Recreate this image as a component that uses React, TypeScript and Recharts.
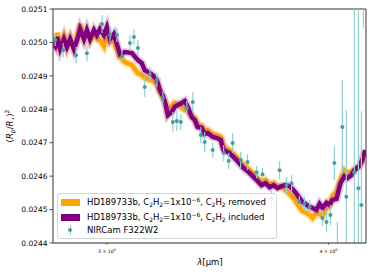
import { ComposedChart, Line, Scatter, ErrorBar, XAxis, YAxis, ReferenceLine } from 'recharts';

// model wavelength grid (micron)
const WAVE = [
  2.797, 2.805, 2.812, 2.823, 2.837, 2.848, 2.86, 2.874, 2.886, 2.897,
  2.912, 2.923, 2.935, 2.95, 2.961, 2.973, 2.988, 3.0, 3.012, 3.027,
  3.039, 3.051, 3.071, 3.099, 3.123, 3.139, 3.151, 3.172, 3.184, 3.201,
  3.213, 3.226, 3.238, 3.247, 3.264, 3.276, 3.289, 3.306, 3.319, 3.332,
  3.349, 3.362, 3.375, 3.393, 3.406, 3.419, 3.442, 3.46, 3.478, 3.491,
  3.518, 3.55, 3.578, 3.611, 3.644, 3.667, 3.686, 3.706, 3.725, 3.744,
  3.764, 3.783, 3.803, 3.823, 3.838, 3.852, 3.867, 3.888, 3.903, 3.918,
  3.938, 3.954, 3.969, 3.99, 4.005, 4.021, 4.042, 4.063, 4.084, 4.1,
  4.121, 4.137, 4.164, 4.18, 4.196,
];

// C2H2 removed
const REMOVED = [
  0.025007, 0.024995, 0.025028, 0.024992, 0.025019, 0.024989, 0.025013, 0.024986, 0.025013, 0.025055,
  0.025013, 0.025031, 0.025007, 0.025028, 0.025013, 0.025007, 0.024989, 0.025028, 0.025001, 0.025007,
  0.024977, 0.024956, 0.024941, 0.024932, 0.024908, 0.024903, 0.024894, 0.024888, 0.024885, 0.024876,
  0.024852, 0.024837, 0.024816, 0.024789, 0.02481, 0.024819, 0.024816, 0.024807, 0.024798, 0.024795,
  0.02478, 0.024774, 0.024756, 0.02475, 0.024735, 0.024738, 0.024726, 0.024723, 0.024717, 0.024687,
  0.024678, 0.024657, 0.024636, 0.024618, 0.024597, 0.024582, 0.024588, 0.024576, 0.024579, 0.02457,
  0.02457, 0.024558, 0.024547, 0.024535, 0.02452, 0.024508, 0.024496, 0.02449, 0.024484, 0.024475,
  0.02449, 0.024487, 0.024481, 0.024505, 0.024514, 0.024541, 0.024553, 0.024588, 0.024618, 0.024612,
  0.024612, 0.024618, 0.02463, 0.024648, 0.024672,
];

// C2H2 included
const INCLUDED = [
  0.024998, 0.024989, 0.025016, 0.02498, 0.02501, 0.024986, 0.02501, 0.02498, 0.025007, 0.02504,
  0.02501, 0.025037, 0.02501, 0.025037, 0.025022, 0.02504, 0.025022, 0.025046, 0.02501, 0.025025,
  0.024995, 0.024965, 0.024971, 0.024968, 0.024947, 0.024938, 0.024917, 0.024908, 0.024902, 0.024888,
  0.024858, 0.02484, 0.024813, 0.024783, 0.024792, 0.024807, 0.024813, 0.024819, 0.024825, 0.024807,
  0.024777, 0.024768, 0.024747, 0.024744, 0.024726, 0.024729, 0.024717, 0.024714, 0.024708, 0.024678,
  0.024669, 0.024648, 0.024627, 0.024609, 0.024588, 0.024573, 0.024579, 0.024567, 0.024573, 0.024564,
  0.02457, 0.024573, 0.02457, 0.024558, 0.024547, 0.024535, 0.024523, 0.024514, 0.024508, 0.024505,
  0.024499, 0.024517, 0.024505, 0.02452, 0.024514, 0.024529, 0.024532, 0.024579, 0.0246, 0.024594,
  0.024603, 0.024618, 0.02463, 0.024648, 0.024678,
];

// NIRCam F322W2 points
const OBS_WAVE = [
  2.805, 2.834, 2.882, 2.923, 2.981, 3.012, 3.039, 3.059, 3.091, 3.107,
  3.123, 3.151, 3.172, 3.201, 3.226, 3.268, 3.285, 3.302, 3.328, 3.354,
  3.389, 3.406, 3.442, 3.491, 3.514, 3.532, 3.569, 3.601, 3.644, 3.672,
  3.715, 3.754, 3.788, 3.813, 3.852, 3.877, 3.903, 3.969, 3.99, 4.01,
  4.031, 4.047, 4.073, 4.094, 4.137, 4.159, 4.175, 4.186,
];
const OBS_DEPTH = [
  0.025007, 0.024977, 0.024962, 0.024968, 0.025055, 0.025022, 0.025022, 0.024959, 0.024998, 0.025016,
  0.024983, 0.024867, 0.024905, 0.024888, 0.024834, 0.024762, 0.024765, 0.024762, 0.024804, 0.024822,
  0.024723, 0.024702, 0.024678, 0.024669, 0.024645, 0.024699, 0.024648, 0.024642, 0.024612, 0.024606,
  0.024532, 0.024618, 0.024573, 0.024579, 0.024523, 0.024517, 0.024508, 0.024475, 0.024463, 0.024484,
  0.024639, 0.024343, 0.024747, 0.024538, 0.024612, 0.024564, 0.024514, 0.025217,
];
const OBS_ERR = [
  0.000018, 0.000021, 0.000024, 0.000024, 0.000027, 0.000024, 0.000021, 0.000021, 0.000024, 0.000024,
  0.000024, 0.00003, 0.000021, 0.000021, 0.000021, 0.00003, 0.00003, 0.000024, 0.000021, 0.00003,
  0.000024, 0.00003, 0.000024, 0.000024, 0.000024, 0.00003, 0.000024, 0.000024, 0.000018, 0.000018,
  0.000027, 0.000027, 0.000024, 0.000024, 0.000018, 0.000021, 0.000021, 0.000024, 0.00003, 0.00003,
  0.000051, 0.00012, 0.00014, 0.00026, 0.00078, 0.00078, 0.00028, 0.000173,
];

const Y_TICKS = [0.0244, 0.0245, 0.0246, 0.0247, 0.0248, 0.0249, 0.025, 0.0251];
const X_TICKS = [3, 4];

const removedData = WAVE.map((x, i) => ({ x, v: REMOVED[i] }));
const includedData = WAVE.map((x, i) => ({ x, v: INCLUDED[i] }));
const obsData = OBS_WAVE.map((x, i) => ({ x, v: OBS_DEPTH[i], err: OBS_ERR[i] }));

const FONT = 'DejaVu Sans';
const ORANGE = '#ffa500';
const PURPLE = '#800080';
const TEAL_DOT = '#459f9f';
const TEAL_BAR = '#93d0d0';

const XTick = ({ x, y, payload }: any) => (
  <g>
    <text x={x} y={y + 6} textAnchor="middle" fontSize={4.6} fontFamily={FONT} fill="#000">
      {payload.value} × 10<tspan dy={-1.6} fontSize={3.4}>0</tspan>
    </text>
  </g>
);

const YLabel = () => (
  <text transform="translate(13,126) rotate(-90)" textAnchor="middle" fontSize={8.5} fontFamily={FONT} fill="#000">
    (<tspan fontStyle="italic">R</tspan>
    <tspan fontStyle="italic" fontSize={6} dy={2}>p</tspan>
    <tspan dy={-2}>/</tspan>
    <tspan fontStyle="italic">R</tspan>
    <tspan fontSize={6} dy={2}>⋆</tspan>
    <tspan dy={-2}>)</tspan>
    <tspan fontSize={6} dy={-4}>2</tspan>
  </text>
);

const XLabel = () => (
  <text x={210} y={265} textAnchor="middle" fontSize={8.5} fontFamily={FONT} fill="#000">
    <tspan fontStyle="italic">λ</tspan>[μm]
  </text>
);

const Dot = ({ cx, cy }: any) => <circle cx={cx} cy={cy} r={2} fill={TEAL_DOT} />;

const Sub = ({ c }: { c: string }) => (
  <span style={{ fontSize: '70%', position: 'relative', top: 2 }}>{c}</span>
);
const Sup = ({ c }: { c: string }) => (
  <span style={{ fontSize: '70%', position: 'relative', top: -3 }}>{c}</span>
);

function Legend() {
  const row = { position: 'absolute' as const, left: 29, fontSize: 8.5, lineHeight: '10px', whiteSpace: 'nowrap' as const };
  return (
    <div
      style={{
        position: 'absolute', left: 57, top: 193, width: 220, height: 46,
        border: '1px solid #d4d4d4', borderRadius: 3, background: 'rgba(255,255,255,0.85)',
        fontFamily: FONT, color: '#000', boxSizing: 'border-box',
      }}
    >
      <div style={{ position: 'absolute', left: 3, top: 5, width: 19, height: 7, background: ORANGE }} />
      <div style={{ ...row, top: 3 }}>
        HD189733b, C<Sub c="2" />H<Sub c="2" />=1x10<Sup c="−6" />, C<Sub c="2" />H<Sub c="2" /> removed
      </div>
      <div style={{ position: 'absolute', left: 3, top: 20, width: 19, height: 7, background: PURPLE }} />
      <div style={{ ...row, top: 18 }}>
        HD189733b, C<Sub c="2" />H<Sub c="2" />=1x10<Sup c="−6" />, C<Sub c="2" />H<Sub c="2" /> included
      </div>
      <div style={{ position: 'absolute', left: 11.5, top: 31, width: 1.2, height: 10, background: TEAL_BAR }} />
      <div style={{ position: 'absolute', left: 10, top: 34, width: 4, height: 4, borderRadius: 2, background: TEAL_DOT }} />
      <div style={{ ...row, top: 31 }}>NIRCam F322W2</div>
    </div>
  );
}

export default function App() {
  return (
    <div style={{ position: 'absolute', left: 0, top: 0, width: 373, height: 274, background: '#fff' }}>
      <style>{`.recharts-scatter, .recharts-errorBars, .recharts-errorBar { clip-path: url(#plotArea); }`}</style>
      <svg width={0} height={0} style={{ position: 'absolute' }}>
        <defs>
          <clipPath id="plotArea">
            <rect x={53} y={9} width={313} height={234} />
          </clipPath>
        </defs>
      </svg>
      <ComposedChart width={373} height={274} margin={{ top: 9, right: 7, bottom: 11, left: 8 }}>
        <XAxis
          dataKey="x"
          type="number"
          scale="log"
          domain={[2.797, 4.2]}
          allowDataOverflow
          ticks={X_TICKS}
          tick={<XTick />}
          tickSize={2}
          height={20}
          axisLine={{ stroke: '#222', strokeWidth: 1 }}
          tickLine={{ stroke: '#222', strokeWidth: 0.6 }}
          label={<XLabel />}
        />
        <YAxis
          type="number"
          domain={[0.0244, 0.0251]}
          allowDataOverflow
          ticks={Y_TICKS}
          tickFormatter={(v: number) => v.toFixed(4)}
          width={45}
          tickSize={3.5}
          tickMargin={2}
          tick={{ fontSize: 7.5, fontFamily: FONT, fill: '#000' }}
          axisLine={{ stroke: '#555', strokeWidth: 1.2 }}
          tickLine={{ stroke: '#222', strokeWidth: 0.8 }}
          label={<YLabel />}
        />
        <ReferenceLine y={0.0251} stroke="#333" strokeWidth={1} />
        <ReferenceLine x={4.2} stroke="#555" strokeWidth={1.2} />

        <Line data={removedData} dataKey="v" type="linear" stroke={ORANGE} strokeOpacity={0.35} strokeWidth={8} dot={false} isAnimationActive={false} />
        <Line data={removedData} dataKey="v" type="linear" stroke={ORANGE} strokeWidth={4.5} dot={false} isAnimationActive={false} />
        <Line data={includedData} dataKey="v" type="linear" stroke="#b060b0" strokeOpacity={0.35} strokeWidth={8} dot={false} isAnimationActive={false} />
        <Line data={includedData} dataKey="v" type="linear" stroke={PURPLE} strokeWidth={4.5} dot={false} isAnimationActive={false} />

        <Scatter data={obsData} dataKey="v" shape={<Dot />} isAnimationActive={false}>
          <ErrorBar dataKey="err" direction="y" width={0} stroke={TEAL_BAR} strokeWidth={1.2} />
        </Scatter>
      </ComposedChart>
      <Legend />
    </div>
  );
}
